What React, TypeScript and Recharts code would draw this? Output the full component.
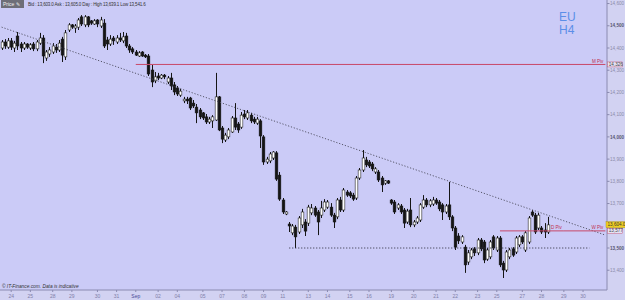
import React from 'react';
import { ComposedChart, Bar, XAxis, YAxis, ReferenceLine, CartesianGrid } from 'recharts';

// H4 candles: [open, high, low, close]
const ohlc: number[][] = [
  [14400, 14436, 14391, 14427], [14427, 14440, 14396, 14409], [14404, 14445, 14396, 14432], [14432, 14445, 14391, 14404],
  [14400, 14432, 14382, 14422], [14454, 14472, 14391, 14409], [14418, 14427, 14382, 14400], [14400, 14427, 14391, 14418],
  [14418, 14422, 14396, 14404], [14400, 14422, 14391, 14414], [14418, 14427, 14386, 14396], [14396, 14436, 14386, 14427],
  [14422, 14468, 14414, 14445], [14445, 14458, 14332, 14364], [14355, 14391, 14342, 14382], [14373, 14404, 14360, 14391],
  [14382, 14422, 14373, 14409], [14404, 14418, 14378, 14391], [14391, 14436, 14382, 14422], [14440, 14450, 14337, 14368],
  [14360, 14481, 14346, 14468], [14481, 14512, 14472, 14504], [14504, 14508, 14486, 14494], [14490, 14508, 14468, 14499],
  [14494, 14535, 14481, 14526], [14540, 14548, 14499, 14508], [14504, 14548, 14494, 14540], [14540, 14544, 14494, 14504],
  [14522, 14526, 14504, 14512], [14508, 14530, 14504, 14522], [14526, 14530, 14494, 14508], [14499, 14540, 14490, 14526],
  [14512, 14530, 14400, 14409], [14436, 14450, 14391, 14418], [14418, 14458, 14409, 14440], [14445, 14454, 14414, 14432],
  [14427, 14458, 14418, 14445], [14445, 14468, 14427, 14436], [14432, 14472, 14422, 14450], [14454, 14468, 14400, 14409],
  [14409, 14418, 14378, 14391], [14396, 14404, 14373, 14382], [14382, 14391, 14364, 14368], [14364, 14386, 14360, 14378],
  [14382, 14386, 14360, 14364], [14368, 14373, 14355, 14360], [14364, 14373, 14274, 14283], [14301, 14324, 14224, 14247],
  [14252, 14292, 14242, 14270], [14274, 14288, 14256, 14265], [14265, 14283, 14260, 14278], [14278, 14283, 14260, 14270],
  [14247, 14274, 14238, 14265], [14265, 14288, 14211, 14229], [14234, 14247, 14188, 14202], [14220, 14229, 14184, 14193],
  [14188, 14216, 14180, 14206], [14162, 14180, 14152, 14170], [14170, 14180, 14148, 14162], [14175, 14180, 14121, 14130],
  [14152, 14166, 14130, 14139], [14134, 14148, 14062, 14108], [14121, 14130, 14080, 14090], [14108, 14112, 14076, 14085],
  [14090, 14103, 14058, 14067], [14067, 14090, 14058, 14080], [14072, 14098, 14040, 14090], [14076, 14288, 14072, 14180],
  [14180, 14184, 14026, 14031], [14040, 14049, 13972, 13990], [13986, 14018, 13977, 14008], [14000, 14040, 13990, 14031],
  [14022, 14094, 14018, 14085], [14085, 14152, 14031, 14044], [14058, 14067, 14018, 14031], [14044, 14112, 14036, 14098],
  [14103, 14121, 14080, 14090], [14085, 14121, 14076, 14108], [14098, 14108, 14062, 14072], [14080, 14090, 14058, 14067],
  [14062, 14090, 14054, 14080], [14072, 14080, 13950, 14004], [14000, 14008, 13874, 13887], [13887, 13910, 13878, 13900],
  [13892, 13932, 13882, 13923], [13905, 13936, 13896, 13932], [13928, 13936, 13802, 13810], [13828, 13842, 13712, 13720],
  [13716, 13725, 13653, 13662], [13653, 13666, 13648, 13662], [13608, 13617, 13572, 13599], [13568, 13608, 13558, 13599],
  [13594, 13604, 13500, 13550], [13572, 13644, 13563, 13635], [13604, 13676, 13590, 13662], [13617, 13630, 13554, 13576],
  [13612, 13694, 13599, 13684], [13658, 13698, 13648, 13680], [13680, 13689, 13640, 13648], [13662, 13671, 13558, 13617],
  [13648, 13712, 13635, 13680], [13671, 13720, 13662, 13707], [13684, 13716, 13676, 13707], [13684, 13702, 13640, 13648],
  [13648, 13658, 13590, 13617], [13640, 13725, 13630, 13716], [13716, 13730, 13662, 13671], [13671, 13770, 13662, 13761],
  [13752, 13761, 13730, 13738], [13748, 13756, 13725, 13734], [13738, 13748, 13712, 13720], [13725, 13824, 13716, 13815],
  [13815, 13860, 13806, 13851], [13851, 13941, 13842, 13905], [13896, 13910, 13864, 13874], [13887, 13896, 13860, 13869],
  [13878, 13887, 13846, 13856], [13842, 13864, 13833, 13856], [13842, 13851, 13797, 13806], [13815, 13824, 13752, 13784],
  [13792, 13806, 13784, 13802], [13802, 13806, 13788, 13792], [13716, 13720, 13694, 13702], [13707, 13716, 13653, 13662],
  [13680, 13702, 13671, 13694], [13689, 13698, 13653, 13662], [13671, 13680, 13590, 13612], [13617, 13676, 13608, 13666],
  [13671, 13725, 13594, 13604], [13604, 13626, 13594, 13617], [13617, 13644, 13608, 13635], [13626, 13702, 13617, 13694],
  [13684, 13738, 13676, 13716], [13716, 13725, 13684, 13694], [13694, 13720, 13684, 13712], [13698, 13730, 13689, 13716],
  [13716, 13725, 13694, 13702], [13707, 13716, 13666, 13676], [13694, 13702, 13626, 13662], [13662, 13698, 13653, 13689],
  [13694, 13797, 13626, 13640], [13640, 13648, 13576, 13590], [13590, 13599, 13491, 13504], [13554, 13567, 13518, 13532],
  [13527, 13558, 13518, 13550], [13504, 13514, 13388, 13424], [13437, 13491, 13424, 13478], [13460, 13500, 13450, 13491],
  [13496, 13504, 13464, 13478], [13478, 13545, 13468, 13536], [13536, 13545, 13486, 13496], [13527, 13536, 13432, 13446],
  [13450, 13500, 13442, 13491], [13460, 13536, 13450, 13527], [13550, 13558, 13491, 13500], [13491, 13554, 13482, 13545],
  [13545, 13554, 13414, 13424], [13432, 13442, 13365, 13401], [13401, 13491, 13392, 13482], [13460, 13500, 13450, 13491],
  [13496, 13504, 13460, 13468], [13482, 13554, 13473, 13545], [13514, 13558, 13504, 13550], [13550, 13558, 13518, 13527],
  [13491, 13576, 13482, 13568], [13527, 13644, 13518, 13635], [13662, 13671, 13640, 13648], [13648, 13658, 13563, 13572],
  [13590, 13658, 13581, 13648], [13590, 13599, 13563, 13572], [13581, 13612, 13545, 13572], [13572, 13640, 13563, 13604],
];

const TOTAL_SLOTS = 190;
const tickIndex = [3, 9, 16, 22, 30, 36, 42, 49, 55, 63, 69, 76, 82, 88, 96, 102, 109, 115, 122, 129, 136, 142, 149, 155, 163, 169, 176, 182];
const tickLabels = ['24', '25', '28', '29', '30', '31', 'Sep', '02', '04', '05', '07', '08', '09', '11', '13', '14', '15', '16', '19', '20', '21', '22', '23', '25', '27', '28', '29', '30'];
const priceTicks = [13400, 13500, 13700, 13800, 13900, 14000, 14100, 14200, 14300, 14400, 14500, 14600];
const boldTicks = [13500, 14000, 14500];
const mPiv = 14326;
const wPiv = 13577;
const dPiv = 13577;
const lastPrice = 13604;
const supportLevel = 13500;
const trendStart = 14494;
const trendEnd = 13558;

const Y_MIN = 13311;
const Y_MAX = 14616;

const data = Array.from({ length: TOTAL_SLOTS }, (_, i) => {
  const c = ohlc[i];
  return c
    ? { i, open: c[0], high: c[1], low: c[2], close: c[3], range: [c[2], c[1]] }
    : { i, range: null };
});

const Candle = (props: any) => {
  const { x, y, width, height, payload } = props;
  if (!payload || payload.high == null || x == null) return null;
  const { open, high, low, close } = payload;
  const top = Math.min(y, y + height);
  const h = Math.abs(height);
  const ratio = h / (high - low || 1);
  const yOf = (v: number) => top + (high - v) * ratio;
  const cx = Math.round(x + width / 2) + 0.5;
  const bTop = yOf(Math.max(open, close));
  const bBot = yOf(Math.min(open, close));
  const up = close >= open;
  const bw = 2.7;
  return (
    <g>
      <line x1={cx} x2={cx} y1={top} y2={top + h} stroke="#151515" strokeWidth={1} />
      <rect
        x={cx - bw / 2}
        y={bTop}
        width={bw}
        height={Math.max(bBot - bTop, 0.8)}
        fill={up ? '#ffffff' : '#151515'}
        stroke="#151515"
        strokeWidth={0.55}
      />
    </g>
  );
};

const fmt = (v: number) => v.toLocaleString('en-US');
const FS = 4.6;

const YTick = (props: any) => {
  const { x, y, payload } = props;
  const v = payload.value;
  if (v === lastPrice) {
    return (
      <g>
        <rect x={x - 4} y={y - 3.2} width={22} height={6} fill="#f0cf22" stroke="#a08a10" strokeWidth={0.4} />
        <text x={x - 2.5} y={y + 1.6} fontSize={FS} fill="#333" fontFamily="Liberation Sans, Arial">13,604.0</text>
      </g>
    );
  }
  if (v === mPiv || v === wPiv) {
    return (
      <g>
        <rect x={x - 2.5} y={y - 2.5} width={15} height={5} fill="#e6e2f4" stroke="#c04060" strokeWidth={0.4} />
        <text x={x - 1.2} y={y + 1.6} fontSize={FS} fill="#444" fontFamily="Liberation Sans, Arial">{fmt(v)}</text>
      </g>
    );
  }
  const bold = boldTicks.includes(v);
  return (
    <text
      x={x}
      y={y + 1.7}
      fontSize={FS}
      fill={bold ? '#555570' : '#8a8aa8'}
      fontWeight={bold ? 'bold' : 'normal'}
      fontFamily="Liberation Sans, Arial"
    >
      {fmt(v)}
    </text>
  );
};

const XTick = (props: any) => {
  const { x, y, payload } = props;
  const idx = tickIndex.indexOf(payload.value);
  const label = idx >= 0 ? tickLabels[idx] : '';
  const isMonth = label === 'Sep';
  return (
    <text
      x={x}
      y={y + 4}
      textAnchor="middle"
      fontSize={5}
      fill={isMonth ? '#4a4a98' : '#8080a8'}
      fontFamily="Liberation Sans, Arial"
    >
      {label}
    </text>
  );
};

const pivLabel = (text: string) => (p: any) => {
  const vb = p.viewBox || {};
  const xEnd = (vb.x ?? 0) + (vb.width ?? 0);
  return (
    <text x={xEnd - 2} y={(vb.y ?? 0) - 1.5} textAnchor="end" fontSize={4.6} fill="#c03050" fontFamily="Liberation Sans, Arial">
      {text}
    </text>
  );
};

export default function App() {
  return (
    <div style={{ position: 'absolute', left: 0, top: 0, width: 625, height: 300, background: '#d2d2f2', overflow: 'hidden' }}>
      <ComposedChart width={625} height={300} data={data} margin={{ top: 0, right: 0, bottom: 0, left: 0 }} barCategoryGap={0}>
        <CartesianGrid horizontal={false} vertical={false} fill="#cbcbf7" stroke="none" />
        <XAxis
          dataKey="i"
          type="category"
          ticks={tickIndex}
          interval={0}
          height={10}
          tickSize={2}
          tick={<XTick />}
          stroke="#8a8ab0"
          tickLine={{ stroke: '#8a8ab0' }}
        />
        <YAxis
          orientation="right"
          type="number"
          domain={[Y_MIN, Y_MAX]}
          allowDataOverflow
          ticks={[...priceTicks, mPiv, lastPrice, wPiv]}
          interval={0}
          width={18}
          tickSize={2.5}
          tickMargin={0.5}
          tick={<YTick />}
          stroke="#8a8ab0"
          tickLine={{ stroke: '#8a8ab0' }}
        />
        <ReferenceLine
          segment={[{ x: 0, y: trendStart }, { x: TOTAL_SLOTS - 1, y: trendEnd }]}
          stroke="#4a4a5a"
          strokeDasharray="1.2 1.8"
          strokeWidth={0.9}
          ifOverflow="visible"
        />
        <ReferenceLine
          segment={[{ x: 90, y: supportLevel }, { x: 184, y: supportLevel }]}
          stroke="#333344"
          strokeDasharray="1.2 1.8"
          strokeWidth={0.9}
        />
        <ReferenceLine
          segment={[{ x: 42, y: mPiv }, { x: TOTAL_SLOTS - 1, y: mPiv }]}
          stroke="#c84868"
          strokeWidth={1}
          label={pivLabel('M Piv')}
        />
        <ReferenceLine
          segment={[{ x: 156, y: dPiv }, { x: 176, y: dPiv }]}
          stroke="#c84868"
          strokeWidth={1}
          label={pivLabel('D Piv')}
        />
        <ReferenceLine
          segment={[{ x: 176, y: wPiv }, { x: TOTAL_SLOTS - 1, y: wPiv }]}
          stroke="#c84868"
          strokeWidth={1}
          label={pivLabel('W Piv')}
        />
        <Bar dataKey="range" shape={<Candle />} isAnimationActive={false} />
      </ComposedChart>

      <div style={{ position: 'absolute', left: 1, top: 0, height: 8, display: 'flex', alignItems: 'center', fontFamily: 'Liberation Sans, Arial', fontSize: 4.5, color: '#333' }}>
        <div style={{ background: '#6e6e78', color: '#f0f0f0', padding: '0 2px', height: 8, lineHeight: '8px', marginRight: 4, width: 19, fontSize: 5 }}>Price ✎</div>
        <div style={{ whiteSpace: 'nowrap', letterSpacing: -0.15 }}>Bid : 13,603.0 Ask : 13,605.0 Day : High 13,639.1 Low 13,541.6</div>
      </div>
      <div style={{ position: 'absolute', left: 559, top: 11, fontFamily: 'Liberation Sans, Arial', fontSize: 12, lineHeight: '12px', height: 12, color: '#5b8ee8' }}>
        EU
      </div>
      <div style={{ position: 'absolute', left: 559, top: 24, fontFamily: 'Liberation Sans, Arial', fontSize: 12, lineHeight: '12px', height: 12, color: '#5b8ee8' }}>
        H4
      </div>
      <div style={{ position: 'absolute', left: 2, top: 284, fontFamily: 'Liberation Sans, Arial', fontSize: 4.8, fontStyle: 'italic', color: '#333', whiteSpace: 'nowrap' }}>
        © IT-Finance.com. Data is indicative
      </div>
    </div>
  );
}
